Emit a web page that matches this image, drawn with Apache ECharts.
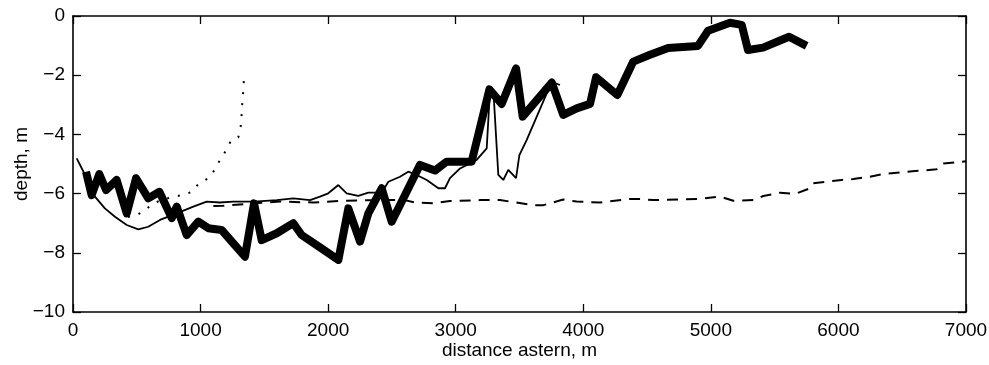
<!DOCTYPE html>
<html>
<head>
<meta charset="utf-8">
<script src="https://cdn.jsdelivr.net/npm/echarts@6/dist/echarts.min.js"></script>
<style>html,body{margin:0;padding:0;background:#fff}#c{width:989px;height:365px}</style>
</head>
<body>
<div id="c"></div>
<script>
// thick line (distance m, depth m)
const thickX = [102,146,206,259,342,421,494,590,677,774,813,891,982,1061,1165,1348,1419,1479,1597,1727,1792,1910,2080,2158,2250,2315,2420,2498,2720,2838,2929,3125,3264,3360,3473,3525,3753,3843,3948,4053,4100,4267,4392,4518,4665,4899,4978,5150,5242,5291,5409,5613,5751];
const thickY = [-5.26,-6.05,-5.34,-5.88,-5.54,-6.67,-5.48,-6.16,-5.94,-6.83,-6.44,-7.4,-6.95,-7.17,-7.23,-8.13,-6.33,-7.57,-7.34,-7.0,-7.4,-7.74,-8.24,-6.5,-7.62,-6.67,-5.82,-6.95,-5.03,-5.22,-4.92,-4.92,-2.48,-2.97,-1.77,-3.4,-2.25,-3.34,-3.12,-2.97,-2.07,-2.67,-1.54,-1.32,-1.08,-1.01,-0.5,-0.23,-0.3,-1.15,-1.07,-0.7,-1.01];
// thin solid line
const thinX = [29,102,172,250,329,421,512,590,682,813,943,1048,1150,1257,1419,1597,1727,1858,1936,2001,2080,2145,2236,2315,2420,2472,2563,2628,2694,2773,2864,2916,2955,3034,3112,3164,3243,3269,3295,3334,3373,3412,3473,3499,3556,3753,3817];
const thinY = [-4.81,-5.43,-6.1,-6.5,-6.78,-7.06,-7.21,-7.12,-6.89,-6.67,-6.44,-6.27,-6.3,-6.27,-6.27,-6.22,-6.16,-6.22,-6.1,-5.99,-5.71,-5.99,-6.08,-5.97,-5.97,-5.6,-5.43,-5.26,-5.37,-5.54,-5.82,-5.82,-5.48,-5.15,-4.98,-4.86,-4.47,-2.5,-2.5,-5.37,-5.54,-5.2,-5.48,-4.7,-4.19,-2.22,-2.33];
// dashed line
const dashX = [1100,1178,1413,1623,1884,2119,2420,2600,2681,2825,2955,3190,3347,3426,3609,3687,3843,3948,4131,4366,4431,4549,4915,5072,5176,5333,5411,5542,5660,5777,5803,6025,6117,6247,6352,6496,6600,6770,6822,7000];
const dashY = [-6.42,-6.41,-6.33,-6.27,-6.3,-6.24,-6.22,-6.22,-6.3,-6.33,-6.25,-6.22,-6.22,-6.27,-6.39,-6.39,-6.2,-6.27,-6.3,-6.18,-6.18,-6.22,-6.18,-6.1,-6.24,-6.22,-6.08,-5.97,-6.01,-5.82,-5.65,-5.54,-5.51,-5.43,-5.34,-5.28,-5.24,-5.18,-4.98,-4.91];
// dotted line
const dotX = [431,504,564,643,786,865,930,982,1061,1110,1160,1199,1240,1296,1314,1322,1327,1335,1340];
const dotY = [-6.79,-6.72,-6.55,-6.3,-6.1,-6.05,-5.94,-5.68,-5.48,-5.2,-4.8,-4.55,-4.2,-4.1,-3.74,-3.31,-2.93,-2.52,-2.12];
const xTicks = [0,1000,2000,3000,4000,5000,6000,7000];
const yTicks = [-10,-8,-6,-4,-2,0];

const pair = (xs, ys) => xs.map((x, i) => [x, ys[i]]);
const FONT = 'Liberation Sans';
const minus = v => String(v).replace('-', '\u2212');

const chart = echarts.init(document.getElementById('c'), null, {renderer: 'canvas'});
const axisLine = {show: true, onZero: false, lineStyle: {color: '#000', width: 1.6}};
const tick = {show: true, inside: true, length: 8, lineStyle: {color: '#000', width: 1.3}};
chart.setOption({
  animation: false,
  backgroundColor: '#fff',
  grid: {left: 73, right: 23, top: 16, bottom: 53, containLabel: false, outerBoundsMode: 'none'},
  xAxis: [{
    type: 'value', min: 0, max: 7000, interval: 1000, position: 'bottom',
    name: 'distance astern, m', nameLocation: 'middle', nameGap: 29, nameMoveOverlap: false,
    nameTextStyle: {fontFamily: FONT, fontSize: 19, color: '#000'},
    axisLine, axisTick: tick, splitLine: {show: false},
    axisLabel: {fontFamily: FONT, fontSize: 19, color: '#000', margin: 9,
      formatter: v => xTicks.includes(v) ? String(v) : ''}
  }, {
    type: 'value', min: 0, max: 7000, interval: 1000, position: 'top',
    axisLine, axisTick: tick, axisLabel: {show: false}, splitLine: {show: false}
  }],
  yAxis: [{
    type: 'value', min: -10, max: 0, interval: 2, position: 'left',
    name: 'depth, m', nameLocation: 'middle', nameGap: 42, nameRotate: 90, nameMoveOverlap: false,
    nameTextStyle: {fontFamily: FONT, fontSize: 19, color: '#000'},
    axisLine, axisTick: tick, splitLine: {show: false},
    axisLabel: {fontFamily: FONT, fontSize: 19, color: '#000', margin: 8,
      formatter: v => yTicks.includes(v) ? minus(v) : ''}
  }, {
    type: 'value', min: -10, max: 0, interval: 2, position: 'right',
    axisLine, axisTick: tick, axisLabel: {show: false}, splitLine: {show: false}
  }],
  series: [
    {type: 'line', data: pair(dashX, dashY), showSymbol: false, symbol: 'none',
      lineStyle: {color: '#000', width: 2, type: [11, 8]}},
    {type: 'line', data: pair(dotX, dotY), showSymbol: false, symbol: 'none',
      lineStyle: {color: '#000', width: 2, type: [2, 9]}},
    {type: 'line', data: pair(thinX, thinY), showSymbol: false, symbol: 'none',
      lineStyle: {color: '#000', width: 1.8}},
    {type: 'line', data: pair(thickX, thickY), showSymbol: false, symbol: 'none',
      lineStyle: {color: '#000', width: 8, join: 'round', cap: 'butt'}}
  ]
});
</script>
</body>
</html>
